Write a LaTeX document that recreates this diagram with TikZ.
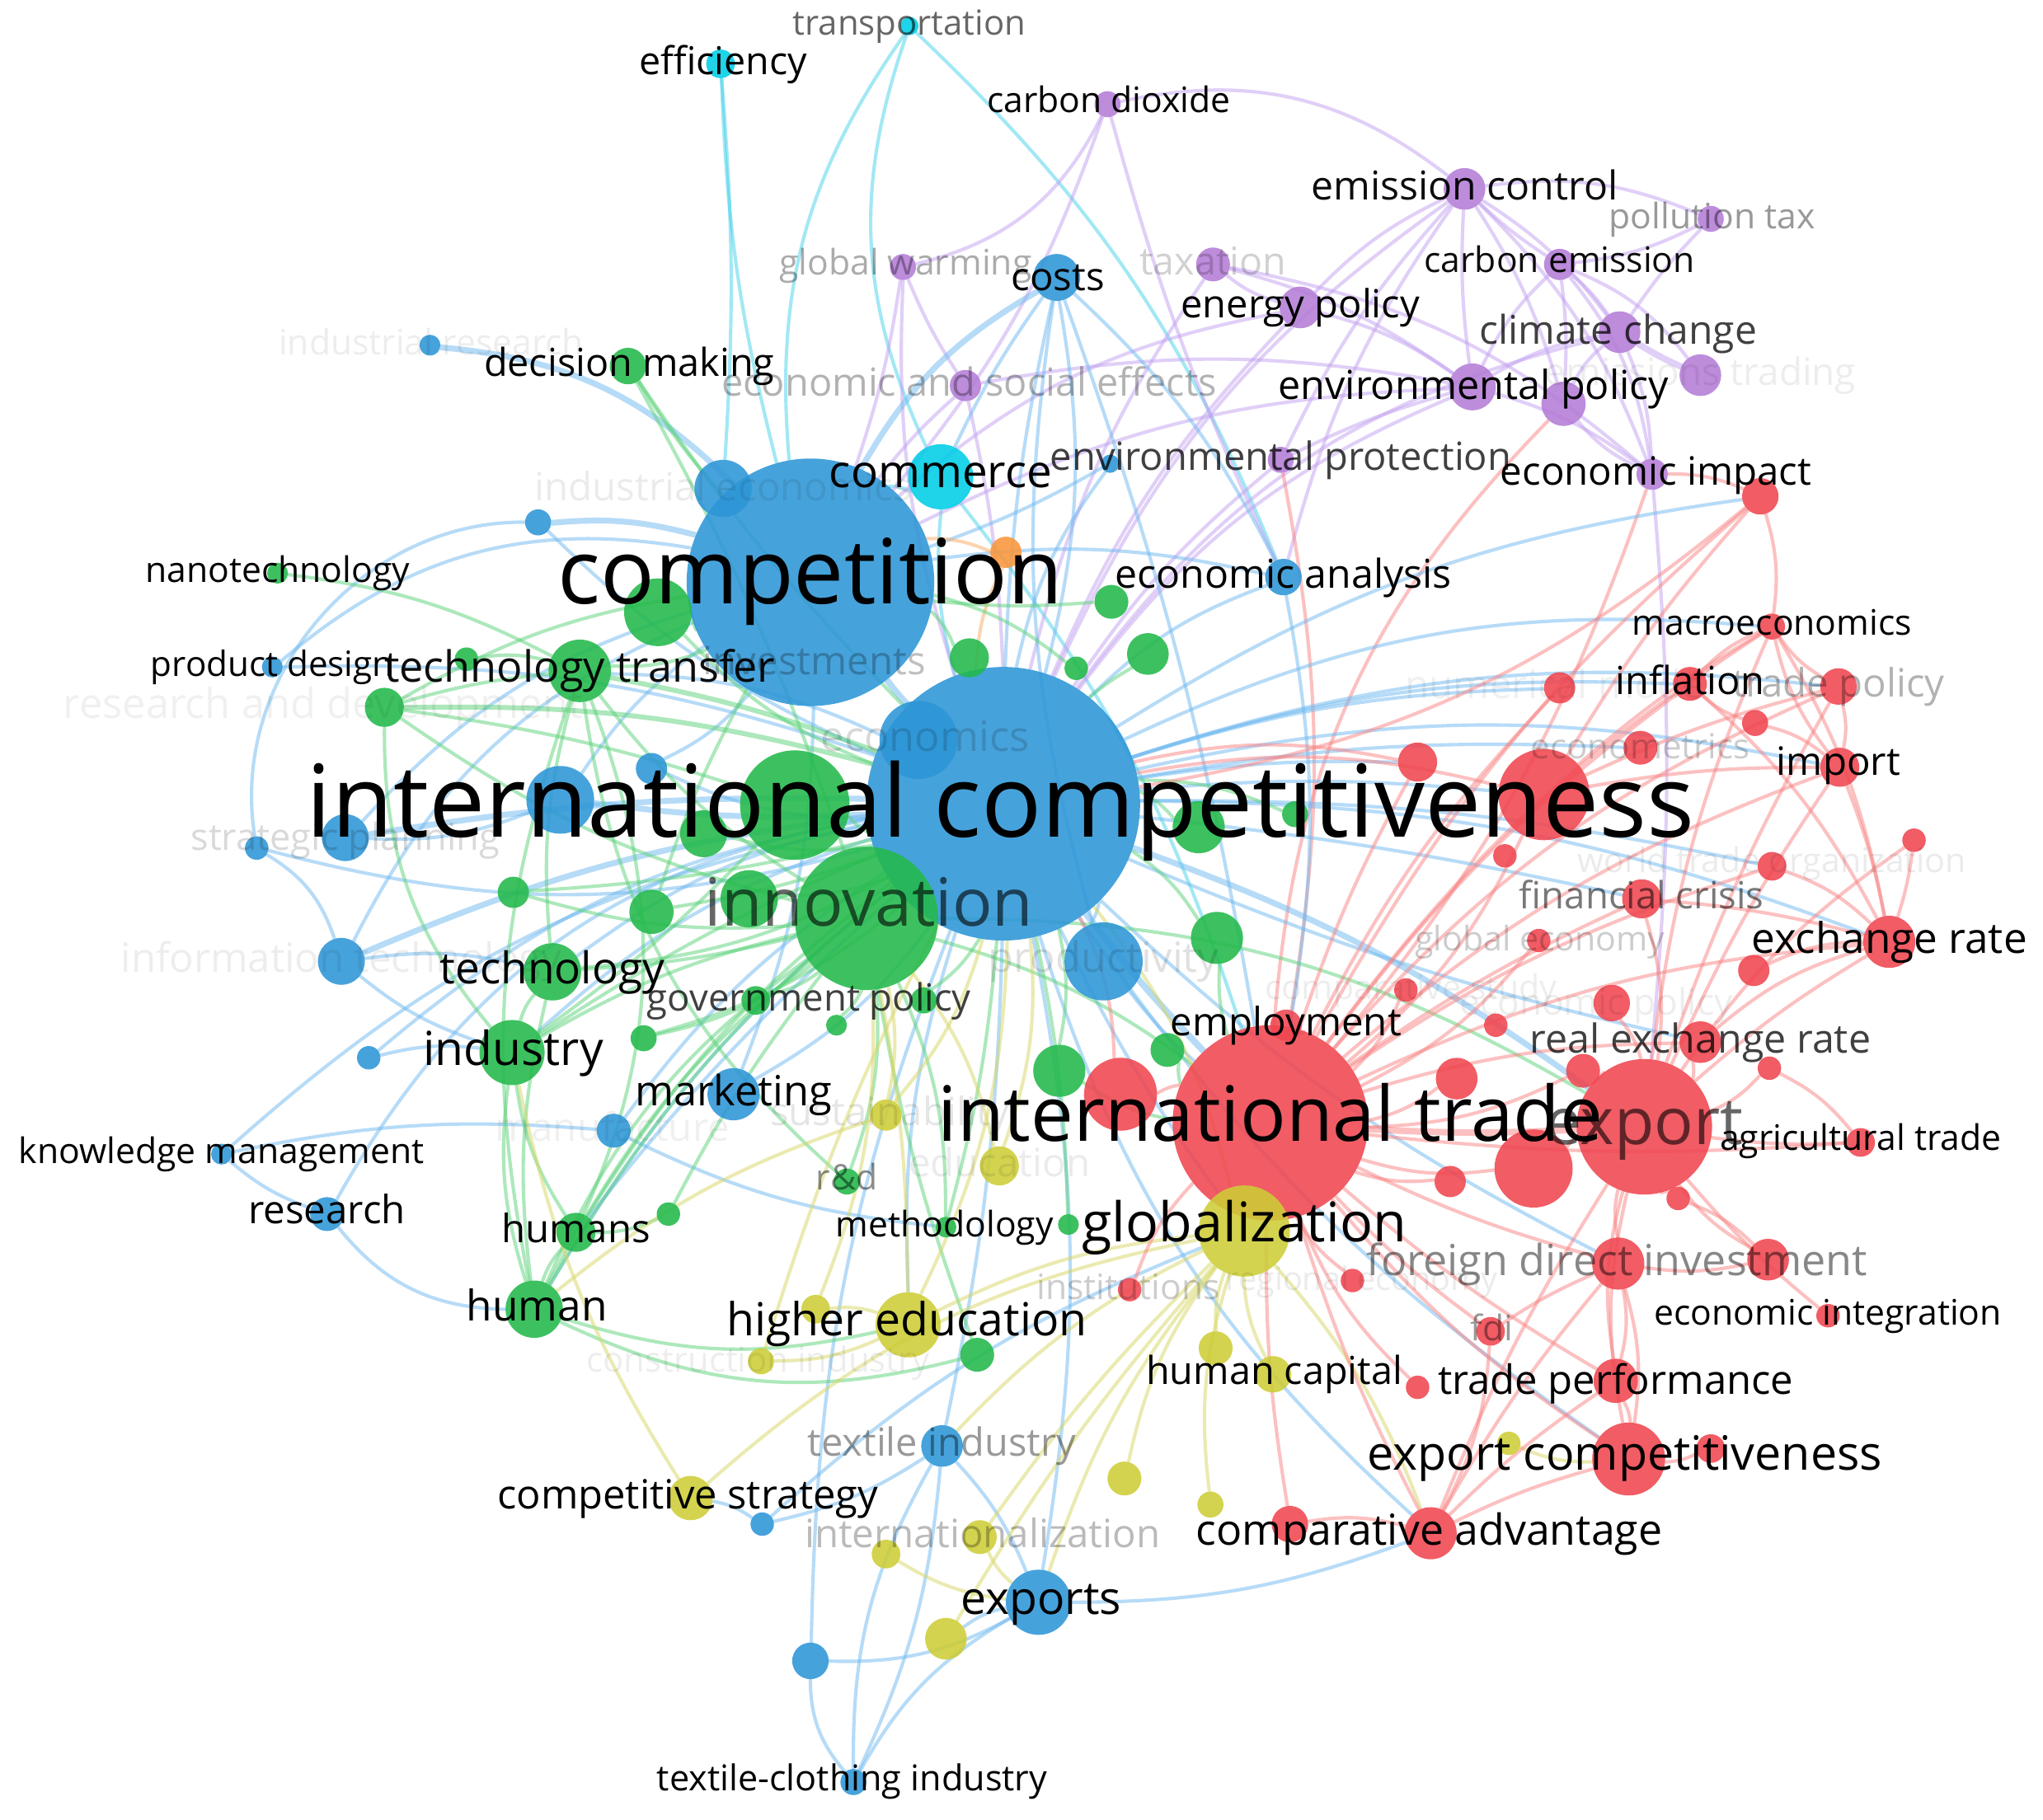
\documentclass[tikz,border=0pt]{standalone}
\usepackage{fontspec}
\setmainfont{Open Sans}
\pgfdeclarelayer{background}
\pgfdeclarelayer{edges}
\pgfdeclarelayer{fg}
\pgfsetlayers{background,edges,main,fg}
\definecolor{cR}{RGB}{240,70,80}
\definecolor{cG}{RGB}{35,185,75}
\definecolor{cB}{RGB}{45,150,215}
\definecolor{cY}{RGB}{205,205,55}
\definecolor{cP}{RGB}{180,125,215}
\definecolor{cC}{RGB}{0,205,230}
\definecolor{cO}{RGB}{250,150,60}
\definecolor{lR}{RGB}{250,130,130}
\definecolor{lG}{RGB}{90,210,120}
\definecolor{lB}{RGB}{110,185,240}
\definecolor{lY}{RGB}{215,215,100}
\definecolor{lP}{RGB}{195,160,240}
\definecolor{lC}{RGB}{70,210,235}
\definecolor{lO}{RGB}{250,170,100}
\tikzset{
  vnode/.style={circle, inner sep=0pt, outer sep=0pt, draw=none, fill opacity=.88},
  vlabel/.style={inner sep=0pt, outer sep=0pt, text=black, anchor=base},
  ebase/.style={line width=2.6pt, draw opacity=.5},
  eR/.style={ebase, draw=lR},
  eG/.style={ebase, draw=lG},
  eB/.style={ebase, draw=lB},
  eY/.style={ebase, draw=lY},
  eP/.style={ebase, draw=lP},
  eC/.style={ebase, draw=lC},
  eO/.style={ebase, draw=lO},
  thk/.style={line width=4.5pt},
}
\newcommand\nd[5]{\node[vnode, fill=#5, minimum size=#4*2pt] (#1) at (#2,#3) {};}
\newcommand\lb[6]{\begin{pgfonlayer}{fg}\node[vlabel, text opacity=#5, font=\fontsize{#4}{#4}\selectfont] (#1) at (#2,{#3+0.27*#4}) {#6};\end{pgfonlayer}}
\newcommand\edg[4]{\pgfmathsetmacro\edgbend{ifthenelse(#4==0,12,#4)}\draw[#1] (#2) to[bend right=\edgbend] (#3);}
\begin{document}
\begin{tikzpicture}[x=1pt,y=-1pt]
\useasboundingbox (0,0) rectangle (1568,1397);
\begin{pgfonlayer}{background}
\fill[white] (0,0) rectangle (1568,1397);
\end{pgfonlayer}
% ---------- nodes (big first) ----------
\nd{intcomp}{770}{617}{105}{cB}
\nd{comp}{622}{447}{95}{cB}
\nd{inttrade}{975}{862}{75}{cR}
\nd{innov}{665}{705}{55}{cG}
\nd{export}{1262}{865}{52}{cR}
\nd{gr610}{610}{618}{42}{cG}
\nd{glob}{955}{945}{35}{cY}
\nd{rd1185}{1185}{610}{35}{cR}
\nd{econs}{705}{568}{30}{cB}
\nd{prod}{847}{738}{30}{cB}
\nd{rd1177}{1177}{897}{30}{cR}
\nd{rd860}{860}{840}{28}{cR}
\nd{expc}{1250}{1120}{28}{cR}
\nd{gr505}{505}{470}{26}{cG}
\nd{bl430}{430}{614}{26}{cB}
\nd{commerce}{722}{366}{25}{cC}
\nd{industry}{393}{808}{25}{cG}
\nd{higher}{697}{1017}{25}{cY}
\nd{exports}{797}{1230}{25}{cB}
\nd{techtr}{445}{515}{24}{cG}
\nd{indeco}{555}{375}{22}{cB}
\nd{gr575}{575}{690}{22}{cG}
\nd{tech}{424}{746}{22}{cG}
\nd{human}{410}{1005}{22}{cG}
\nd{mkt}{563}{840}{20}{cB}
\nd{gr813}{813}{822}{20}{cG}
\nd{gr934}{934}{720}{20}{cG}
\nd{gr920}{920}{635}{20}{cG}
\nd{exrate}{1450}{723}{20}{cR}
\nd{fdi1}{1242}{970}{20}{cR}
\nd{compadv}{1098}{1177}{20}{cR}
\nd{costs}{811}{213}{18}{cB}
\nd{envpol}{1130}{297}{18}{cP}
\nd{strat}{265}{643}{18}{cB}
\nd{infotech}{262}{738}{18}{cB}
\nd{gr540}{540}{640}{18}{cG}
\nd{envpol2}{1200}{310}{17}{cP}
\nd{gr500}{500}{700}{17}{cG}
\nd{tperf}{1240}{1060}{17}{cR}
\nd{cstrat}{530}{1150}{17}{cY}
\nd{emctrl}{1124}{145}{16}{cP}
\nd{enpol}{998}{236}{16}{cP}
\nd{climate}{1243}{255}{16}{cP}
\nd{emtrade}{1305}{288}{16}{cP}
\nd{gr881}{881}{502}{16}{cG}
\nd{rd1118}{1118}{828}{16}{cR}
\nd{rex}{1305}{800}{16}{cR}
\nd{fdi2}{1357}{967}{16}{cR}
\nd{texind}{723}{1110}{16}{cB}
\nd{yl726}{726}{1258}{16}{cY}
\nd{gr744}{744}{505}{15}{cG}
\nd{rnd}{295}{543}{15}{cG}
\nd{humans}{442}{946}{15}{cG}
\nd{educ}{767}{895}{15}{cY}
\nd{rd1088}{1088}{585}{15}{cR}
\nd{import}{1412}{589}{15}{cR}
\nd{fincr}{1260}{690}{15}{cR}
\nd{decm}{482}{281}{14}{cG}
\nd{econan}{985}{443}{14}{cB}
\nd{red1351}{1351}{381}{14}{cR}
\nd{tpol}{1411}{527}{14}{cR}
\nd{ecpol}{1237}{770}{14}{cR}
\nd{hcap}{977}{1055}{14}{cY}
\nd{rd990}{990}{1170}{14}{cR}
\nd{bl622}{622}{1275}{14}{cB}
\nd{taxat}{931}{203}{13}{cP}
\nd{gr853}{853}{462}{13}{cG}
\nd{gr896}{896}{806}{13}{cG}
\nd{manuf}{471}{868}{13}{cB}
\nd{research}{251}{932}{13}{cB}
\nd{infl}{1297}{525}{13}{cR}
\nd{econom}{1259}{574}{13}{cR}
\nd{rd1215}{1215}{822}{13}{cR}
\nd{gr750}{750}{1040}{13}{cG}
\nd{hcap2}{933}{1035}{13}{cY}
\nd{yl863}{863}{1135}{13}{cY}
\nd{intlz}{752}{1180}{13}{cY}
\nd{cemis}{1197}{203}{12}{cP}
\nd{esoc}{741}{296}{12}{cP}
\nd{ecimp}{1268}{364}{12}{cP}
\nd{orng}{772}{424}{12}{cO}
\nd{bl500}{500}{590}{12}{cB}
\nd{gr394}{394}{685}{12}{cG}
\nd{sust}{680}{856}{12}{cY}
\nd{emp}{987}{787}{12}{cR}
\nd{rd1113}{1113}{907}{12}{cR}
\nd{nummod}{1197}{528}{12}{cR}
\nd{rd1346}{1346}{745}{12}{cR}
\nd{effic}{553}{49}{11}{cC}
\nd{gpol1}{580}{768}{11}{cG}
\nd{wto}{1360}{665}{11}{cR}
\nd{agri}{1428}{877}{11}{cR}
\nd{fdi}{1144}{1022}{11}{cR}
\nd{rd1313}{1313}{1112}{11}{cR}
\nd{yl626}{626}{1005}{11}{cY}
\nd{yl680}{680}{1193}{11}{cY}
\nd{cdiox}{850}{80}{10}{cP}
\nd{poltax}{1313}{168}{10}{cP}
\nd{gwarm}{693}{205}{10}{cP}
\nd{envprot}{983}{353}{10}{cP}
\nd{bl413}{413}{401}{10}{cB}
\nd{gr494}{494}{797}{10}{cG}
\nd{gpol2}{709}{768}{10}{cG}
\nd{rd}{650}{907}{10}{cG}
\nd{gr994}{994}{625}{10}{cG}
\nd{macro}{1360}{481}{10}{cR}
\nd{rd1347}{1347}{555}{10}{cR}
\nd{constr}{584}{1045}{10}{cY}
\nd{texcl}{655}{1368}{10}{cB}
\nd{yl929}{929}{1155}{10}{cY}
\nd{strat1}{197}{651}{9}{cB}
\nd{bl283}{283}{812}{9}{cB}
\nd{gr358}{358}{506}{9}{cG}
\nd{gr826}{826}{513}{9}{cG}
\nd{gr513}{513}{932}{9}{cG}
\nd{bl585}{585}{1170}{9}{cB}
\nd{rd1155}{1155}{657}{9}{cR}
\nd{compst}{1079}{760}{9}{cR}
\nd{rd1148}{1148}{787}{9}{cR}
\nd{rd1469}{1469}{645}{9}{cR}
\nd{gecon}{1181}{722}{9}{cR}
\nd{rd1358}{1358}{820}{9}{cR}
\nd{rd1288}{1288}{920}{9}{cR}
\nd{inst}{867}{990}{9}{cR}
\nd{regec}{1038}{983}{9}{cR}
\nd{ecint}{1403}{1010}{9}{cR}
\nd{tperf1}{1088}{1065}{9}{cR}
\nd{yl1158}{1158}{1108}{9}{cY}
\nd{indres}{330}{265}{8}{cB}
\nd{nano}{213}{440}{8}{cG}
\nd{prodd}{209}{512}{8}{cB}
\nd{knowm}{170}{886}{8}{cB}
\nd{gr642}{642}{787}{8}{cG}
\nd{method}{726}{942}{8}{cG}
\nd{gr820}{820}{940}{8}{cG}
\nd{trans}{698}{20}{7}{cC}
\nd{bl852}{852}{356}{7}{cB}
% ---------- edges ----------
\begin{pgfonlayer}{edges}
% cyan
\edg{eC}{effic}{indeco}{-4}
\edg{eC}{effic}{comp}{6}
\edg{eC}{trans}{comp}{20}
\edg{eC}{trans}{commerce}{22}
\edg{eC}{trans}{econan}{-12}
\edg{eC}{commerce}{comp}{0}
\edg{eC}{commerce}{intcomp}{10}
\edg{eC}{commerce}{inttrade}{-10}
% purple
\edg{eP}{cdiox}{gwarm}{-25}
\edg{eP}{cdiox}{comp}{-10}
\edg{eP}{cdiox}{emctrl}{-25}
\edg{eP}{cdiox}{econan}{5}
\edg{eP}{gwarm}{comp}{-5}
\edg{eP}{gwarm}{esoc}{5}
\edg{eP}{gwarm}{intcomp}{10}
\edg{eP}{emctrl}{cemis}{5}
\edg{eP}{emctrl}{climate}{-10}
\edg{eP}{emctrl}{envpol}{5}
\edg{eP}{emctrl}{envpol2}{-8}
\edg{eP}{emctrl}{poltax}{-15}
\edg{eP}{emctrl}{enpol}{10}
\edg{eP}{emctrl}{intcomp}{15}
\edg{eP}{emctrl}{envprot}{8}
\edg{eP}{emctrl}{ecimp}{-12}
\edg{eP}{emctrl}{econan}{10}
\edg{eP}{cemis}{poltax}{10}
\edg{eP}{cemis}{climate}{-8}
\edg{eP}{cemis}{envpol}{10}
\edg{eP}{cemis}{envpol2}{-5}
\edg{eP}{cemis}{emtrade}{-15}
\edg{eP}{cemis}{ecimp}{-15}
\edg{eP,line width=5pt}{climate}{emtrade}{4}
\edg{eP}{climate}{envpol}{10}
\edg{eP}{climate}{envpol2}{0}
\edg{eP}{climate}{ecimp}{-10}
\edg{eP}{climate}{intcomp}{20}
\edg{eP}{poltax}{climate}{5}
\edg{eP}{taxat}{envpol}{-10}
\edg{eP}{taxat}{enpol}{0}
\edg{eP}{taxat}{intcomp}{10}
\edg{eP}{taxat}{ecimp}{-15}
\edg{eP}{enpol}{intcomp}{10}
\edg{eP}{enpol}{envpol}{-10}
\edg{eP}{enpol}{comp}{15}
\edg{eP}{envpol}{intcomp}{15}
\edg{eP}{envpol}{ecimp}{-10}
\edg{eP}{envpol}{comp}{12}
\edg{eP}{envpol}{esoc}{10}
\edg{eR}{envpol2}{inttrade}{20}
\edg{eP}{envpol2}{ecimp}{0}
\edg{eP}{envprot}{intcomp}{8}
\edg{eR}{envprot}{inttrade}{-10}
\edg{eP}{envprot}{envpol}{-5}
\edg{eR}{ecimp}{inttrade}{-10}
\edg{eP}{ecimp}{export}{-5}
\edg{eP}{esoc}{comp}{5}
\edg{eP}{esoc}{intcomp}{-5}
% blue
\edg{eB,thk}{costs}{comp}{15}
\edg{eB}{costs}{intcomp}{5}
\edg{eB}{costs}{intcomp}{-12}
\edg{eB}{costs}{econan}{-10}
\edg{eB}{costs}{inttrade}{-5}
\edg{eB}{costs}{commerce}{5}
\edg{eB}{costs}{prod}{0}
\edg{eB,thk}{indres}{comp}{-20}
\edg{eB,thk}{bl413}{comp}{-10}
\edg{eB}{bl413}{intcomp}{10}
\edg{eB}{bl413}{strat1}{50}
\edg{eB}{prodd}{comp}{-25}
\edg{eB}{prodd}{intcomp}{-10}
\edg{eB}{strat1}{intcomp}{15}
\edg{eB,thk}{strat}{intcomp}{-5}
\edg{eB}{strat}{comp}{-15}
\edg{eB}{strat}{bl430}{0}
\edg{eB,thk}{bl430}{intcomp}{5}
\edg{eB}{bl430}{comp}{-10}
\edg{eB}{bl500}{intcomp}{0}
\edg{eB}{bl500}{comp}{0}
\edg{eB,thk}{infotech}{intcomp}{-8}
\edg{eB}{infotech}{comp}{-20}
\edg{eB}{infotech}{tech}{-10}
\edg{eB}{infotech}{strat1}{20}
\edg{eB}{infotech}{industry}{10}
\edg{eB}{bl283}{intcomp}{-15}
\edg{eB}{bl283}{industry}{-10}
\edg{eB}{knowm}{intcomp}{-15}
\edg{eB}{knowm}{research}{10}
\edg{eB}{knowm}{manuf}{-8}
\edg{eB}{research}{intcomp}{-25}
\edg{eB}{research}{human}{25}
\edg{eB}{mkt}{intcomp}{0}
\edg{eB}{mkt}{comp}{10}
\edg{eB}{manuf}{intcomp}{-10}
\edg{eB}{manuf}{method}{10}
\edg{eB}{texind}{intcomp}{5}
\edg{eB}{texind}{exports}{-10}
\edg{eB}{texind}{bl585}{-10}
\edg{eB}{texind}{texcl}{15}
\edg{eB}{bl585}{cstrat}{0}
\edg{eB}{bl585}{glob}{-10}
\edg{eB}{exports}{intcomp}{10}
\edg{eB}{exports}{compadv}{10}
\edg{eB}{exports}{yl726}{0}
\edg{eB}{exports}{bl622}{-15}
\edg{eB}{exports}{texcl}{15}
\edg{eB}{bl622}{texcl}{20}
\edg{eB}{bl622}{intcomp}{-10}
\edg{eB}{texcl}{texind}{10}
\edg{eB}{econan}{intcomp}{0}
\edg{eB}{econan}{comp}{10}
\edg{eB}{econan}{inttrade}{-10}
\edg{eB}{bl852}{intcomp}{0}
\edg{eB}{bl852}{comp}{-5}
\edg{eB}{prod}{intcomp}{0}
\edg{eB}{prod}{inttrade}{5}
\edg{eB}{econs}{intcomp}{0}
\edg{eB,line width=5pt}{comp}{intcomp}{3}
\edg{eB,line width=5pt}{intcomp}{inttrade}{3}
\edg{eB,thk}{intcomp}{export}{-8}
\edg{eB}{intcomp}{rd1185}{-5}
\edg{eB}{intcomp}{exrate}{-10}
\edg{eB}{intcomp}{import}{-12}
\edg{eB}{intcomp}{infl}{-10}
\edg{eB}{intcomp}{macro}{-15}
\edg{eB}{intcomp}{red1351}{-12}
\edg{eB}{intcomp}{rex}{5}
\edg{eB}{intcomp}{compadv}{15}
\edg{eB}{intcomp}{expc}{10}
\edg{eB}{intcomp}{fdi1}{8}
\edg{eB}{intcomp}{glob}{5}
\edg{eB}{intcomp}{higher}{10}
\edg{eB}{intcomp}{human}{10}
\edg{eB}{intcomp}{industry}{0}
\edg{eB}{intcomp}{tech}{0}
\edg{eB}{intcomp}{techtr}{0}
\edg{eB}{intcomp}{humans}{5}
\edg{eB}{intcomp}{rd1088}{-5}
\edg{eB}{intcomp}{nummod}{-8}
\edg{eB}{intcomp}{econom}{-6}
\edg{eB}{intcomp}{tpol}{-12}
\edg{eB}{intcomp}{fincr}{-3}
\edg{eB}{intcomp}{wto}{-6}
% orange
\edg{eO}{orng}{intcomp}{0}
\edg{eO}{orng}{comp}{0}
% green
\edg{eG}{decm}{comp}{5}
\edg{eG}{decm}{innov}{-5}
\edg{eG}{decm}{intcomp}{5}
\edg{eG}{nano}{techtr}{-10}
\edg{eG}{gr505}{comp}{0}
\edg{eG}{gr505}{intcomp}{0}
\edg{eG}{techtr}{comp}{0}
\edg{eG,line width=3.8pt}{techtr}{intcomp}{-5}
\edg{eG}{techtr}{innov}{10}
\edg{eG}{techtr}{rnd}{5}
\edg{eG}{techtr}{gr358}{0}
\edg{eG}{techtr}{human}{15}
\edg{eG,line width=3.8pt}{rnd}{intcomp}{-8}
\edg{eG}{rnd}{innov}{10}
\edg{eG}{rnd}{industry}{20}
\edg{eG}{rnd}{gr610}{-5}
\edg{eG}{rnd}{comp}{-10}
\edg{eG}{gr394}{intcomp}{5}
\edg{eG}{gr394}{innov}{10}
\edg{eG}{tech}{intcomp}{0}
\edg{eG}{tech}{innov}{5}
\edg{eG}{tech}{industry}{0}
\edg{eG}{tech}{human}{10}
\edg{eG}{tech}{techtr}{-10}
\edg{eG}{industry}{intcomp}{-5}
\edg{eG}{industry}{innov}{-8}
\edg{eG}{industry}{human}{0}
\edg{eG}{industry}{humans}{0}
\edg{eG}{industry}{gr610}{5}
\edg{eG}{gr494}{intcomp}{0}
\edg{eG}{gr494}{innov}{0}
\edg{eG}{humans}{intcomp}{-10}
\edg{eG}{humans}{innov}{-10}
\edg{eG}{humans}{human}{0}
\edg{eG}{humans}{gr513}{0}
\edg{eG}{human}{innov}{-15}
\edg{eG}{human}{intcomp}{-10}
\edg{eG}{human}{higher}{15}
\edg{eG}{human}{gr750}{20}
\edg{eG}{human}{techtr}{25}
\edg{eG}{gr513}{innov}{-5}
\edg{eG}{gpol1}{innov}{0}
\edg{eG}{gpol2}{intcomp}{0}
\edg{eG}{rd}{innov}{0}
\edg{eG}{rd}{techtr}{-20}
\edg{eG}{method}{innov}{0}
\edg{eG}{method}{intcomp}{5}
\edg{eG}{gr820}{intcomp}{5}
\edg{eG}{gr813}{inttrade}{0}
\edg{eG}{gr813}{intcomp}{0}
\edg{eG}{gr934}{intcomp}{0}
\edg{eG}{gr934}{inttrade}{10}
\edg{eG}{gr896}{inttrade}{0}
\edg{eG}{gr920}{intcomp}{0}
\edg{eG}{gr853}{comp}{-5}
\edg{eG}{gr881}{intcomp}{5}
\edg{eG}{gr826}{comp}{0}
\edg{eG}{gr744}{comp}{0}
\edg{eG}{gr750}{innov}{-5}
\edg{eG}{gr540}{intcomp}{0}
\edg{eG}{gr610}{intcomp}{0}
\edg{eG}{gr575}{intcomp}{0}
\edg{eG}{gr500}{intcomp}{5}
\edg{eG}{gr500}{comp}{-5}
\edg{eG}{innov}{inttrade}{-10}
\edg{eG}{innov}{export}{-15}
\edg{eG}{gr994}{intcomp}{0}
\edg{eG}{gr642}{innov}{0}
% yellow
\edg{eY}{glob}{intcomp}{0}
\edg{eY}{glob}{inttrade}{0}
\edg{eY}{glob}{higher}{10}
\edg{eY}{glob}{hcap}{0}
\edg{eY}{glob}{hcap2}{0}
\edg{eY}{glob}{cstrat}{15}
\edg{eY}{glob}{texind}{10}
\edg{eY}{glob}{intlz}{5}
\edg{eY}{glob}{yl726}{5}
\edg{eY}{glob}{exports}{10}
\edg{eY}{glob}{compadv}{-10}
\edg{eY}{glob}{yl863}{0}
\edg{eY}{glob}{yl929}{0}
\edg{eY}{higher}{intcomp}{0}
\edg{eY}{higher}{innov}{5}
\edg{eY}{higher}{yl626}{0}
\edg{eY}{yl626}{innov}{0}
\edg{eY}{constr}{intcomp}{-5}
\edg{eY}{constr}{higher}{0}
\edg{eY}{sust}{innov}{0}
\edg{eY}{sust}{intcomp}{0}
\edg{eY}{sust}{human}{10}
\edg{eY}{educ}{intcomp}{0}
\edg{eY}{educ}{innov}{0}
\edg{eY}{cstrat}{industry}{-10}
\edg{eY}{intlz}{exports}{0}
\edg{eY}{yl680}{exports}{0}
\edg{eY}{yl1158}{expc}{0}
% red
\edg{eR,line width=5pt}{inttrade}{export}{3}
\edg{eR}{inttrade}{rd1177}{0}
\edg{eR}{inttrade}{exrate}{-10}
\edg{eR}{inttrade}{rex}{-8}
\edg{eR}{inttrade}{fdi1}{5}
\edg{eR}{inttrade}{compadv}{5}
\edg{eR}{inttrade}{expc}{8}
\edg{eR}{inttrade}{tperf}{5}
\edg{eR}{inttrade}{macro}{-10}
\edg{eR}{inttrade}{infl}{-8}
\edg{eR}{inttrade}{import}{-10}
\edg{eR}{inttrade}{rd1185}{0}
\edg{eR}{inttrade}{red1351}{-10}
\edg{eR}{inttrade}{agri}{5}
\edg{eR}{inttrade}{rd860}{0}
\edg{eR}{inttrade}{rd1118}{0}
\edg{eR}{inttrade}{rd1113}{0}
\edg{eR}{inttrade}{emp}{0}
\edg{eR}{inttrade}{inst}{0}
\edg{eR}{inttrade}{regec}{0}
\edg{eR}{inttrade}{fdi}{5}
\edg{eR}{inttrade}{rd1215}{0}
\edg{eR}{inttrade}{fincr}{-5}
\edg{eR}{inttrade}{nummod}{-8}
\edg{eR}{inttrade}{wto}{-8}
\edg{eR}{inttrade}{gecon}{0}
\edg{eR}{inttrade}{compst}{0}
\edg{eR}{inttrade}{rd990}{5}
\edg{eR}{inttrade}{tperf1}{0}
\edg{eR}{inttrade}{tpol}{-12}
\edg{eR}{export}{exrate}{-5}
\edg{eR}{export}{agri}{5}
\edg{eR}{export}{expc}{0}
\edg{eR}{export}{import}{-5}
\edg{eR}{export}{fincr}{0}
\edg{eR}{export}{rex}{0}
\edg{eR}{export}{fdi1}{0}
\edg{eR}{export}{fdi2}{0}
\edg{eR}{export}{ecint}{5}
\edg{eR}{export}{rd1358}{0}
\edg{eR}{export}{rd1288}{0}
\edg{eR}{export}{tpol}{-5}
\edg{eR}{export}{macro}{-8}
\edg{eR}{export}{ecpol}{0}
\edg{eR}{export}{rd1469}{-10}
\edg{eR}{export}{rd1177}{0}
\edg{eR}{export}{rd1215}{0}
\edg{eR}{export}{compadv}{5}
\edg{eR}{export}{tperf}{0}
\edg{eR}{exrate}{rd1469}{5}
\edg{eR}{exrate}{import}{5}
\edg{eR}{exrate}{infl}{10}
\edg{eR}{exrate}{macro}{10}
\edg{eR}{exrate}{rex}{0}
\edg{eR}{exrate}{wto}{0}
\edg{eR}{exrate}{fincr}{5}
\edg{eR}{exrate}{rd1346}{0}
\edg{eR}{rd1185}{intcomp}{0}
\edg{eR}{rd1185}{macro}{-5}
\edg{eR}{rd1185}{import}{-5}
\edg{eR}{rd1185}{red1351}{-5}
\edg{eR}{rd1185}{tpol}{-5}
\edg{eR}{compadv}{expc}{-5}
\edg{eR}{compadv}{fdi1}{-5}
\edg{eR}{compadv}{tperf}{-5}
\edg{eR}{compadv}{rd990}{0}
\edg{eR}{compadv}{fdi}{0}
\edg{eR}{expc}{tperf}{0}
\edg{eR}{expc}{fdi1}{0}
\edg{eR}{expc}{rd1313}{0}
\edg{eR}{fdi1}{fdi}{5}
\edg{eR}{fdi1}{fdi2}{10}
\edg{eR}{fdi2}{rd1288}{0}
\edg{eR}{tperf}{fdi1}{0}
\edg{eR}{macro}{red1351}{0}
\edg{eR}{macro}{infl}{0}
\edg{eR}{macro}{import}{0}
\edg{eR}{macro}{tpol}{0}
\edg{eR}{red1351}{intcomp}{-15}
\edg{eR}{red1351}{ecimp}{0}
\edg{eR}{rd860}{intcomp}{0}
\edg{eR}{rd1088}{intcomp}{0}
\edg{eR}{rd1088}{inttrade}{5}
\edg{eR}{import}{tpol}{0}
\edg{eR}{import}{rd1347}{0}
\edg{eR}{infl}{rd1347}{0}
\edg{eR}{agri}{rd1358}{0}
\end{pgfonlayer}
% ---------- labels ----------
\lb{Ltrans}{698}{20}{26.5}{.6}{transportation}
\lb{Leffic}{555}{49}{29.5}{1}{efficiency}
\lb{Lcdiox}{851}{79}{27}{1}{carbon dioxide}
\lb{Lemctrl}{1124}{145}{30.5}{.95}{emission control}
\lb{Lpoltax}{1314}{168}{27}{.4}{pollution tax}
\lb{Lcemis}{1197}{202}{27}{.95}{carbon emission}
\lb{Lgwarm}{695}{204}{27}{.33}{global warming}
\lb{Ltaxat}{931}{203}{29.5}{.18}{taxation}
\lb{Lcosts}{812}{215}{30}{1}{costs}
\lb{Lenpol}{998}{236}{29.8}{1}{energy policy}
\lb{Lclimate}{1242}{256}{30.4}{.75}{climate change}
\lb{Lemtrade}{1305}{288}{29}{.07}{emissions trading}
\lb{Lenvpol}{1131}{298}{30.7}{1}{environmental policy}
\lb{Lesoc}{744}{296}{29.7}{.3}{economic and social effects}
\lb{Ldecm}{483}{281}{29.6}{1}{decision making}
\lb{Lindres}{331}{265}{27}{.07}{industrial research}
\lb{Lindeco}{555}{376}{30}{.08}{industrial economics}
\lb{Lcommerce}{722}{365}{34.7}{1}{commerce}
\lb{Lenvprot}{983}{353}{29.8}{.75}{environmental protection}
\lb{Lecimp}{1271}{364}{30}{1}{economic impact}
\lb{Lnano}{213}{440}{27}{1}{nanotechnology}
\lb{Lcomp}{622}{445}{69}{1}{competition}
\lb{Leconan}{985}{443}{30.5}{1}{economic analysis}
\lb{Lprodd}{209}{512}{26.7}{1}{product design}
\lb{Ltechtr}{445}{515}{33}{.95}{technology transfer}
\lb{Linvest}{625}{510}{30}{.25}{investments}
\lb{Lrnd}{248}{543}{32}{.06}{research and development}
\lb{Lecons}{710}{568}{32}{.15}{economics}
\lb{Lintcomp}{768}{622}{77}{1}{international competitiveness}
\lb{Lstrat}{265}{645}{28.6}{.15}{strategic planning}
\lb{Linnov}{667}{697}{51}{.6}{innovation}
\lb{Linfotech}{262}{738}{31}{.07}{information technology}
\lb{Lprod}{847}{738}{32}{.12}{productivity}
\lb{Ltech}{424}{746}{33.6}{1}{technology}
\lb{Lgpol}{621}{768}{28.8}{.75}{government policy}
\lb{Lemp}{987}{787}{30}{1}{employment}
\lb{Lindustry}{394}{808}{36}{1}{industry}
\lb{Lmkt}{563}{840}{32}{1}{marketing}
\lb{Lmanuf}{470}{868}{30}{.06}{manufacture}
\lb{Lsust}{683}{856}{30}{.1}{sustainability}
\lb{Linttrade}{975}{860}{58.5}{1}{international trade}
\lb{Lexport}{1262}{865}{50}{.6}{export}
\lb{Lknowm}{170}{886}{27}{1}{knowledge management}
\lb{Leduc}{767}{895}{30}{.08}{education}
\lb{Lrd}{650}{906}{27}{.45}{r\&d}
\lb{Lresearch}{251}{931}{30}{1}{research}
\lb{Lmethod}{725}{942}{27}{1}{methodology}
\lb{Lhumans}{442}{946}{30}{1}{humans}
\lb{Lglob}{955}{942}{42}{1}{globalization}
\lb{Lhuman}{412}{1005}{32.5}{1}{human}
\lb{Lhigher}{696}{1016}{35}{1}{higher education}
\lb{Lconstr}{582}{1046}{26.5}{.07}{construction industry}
\lb{Linst}{866}{990}{27}{.2}{institutions}
\lb{Lregec}{1045}{984}{25}{.08}{regional economy}
\lb{Lhcap}{978}{1055}{29.6}{1}{human capital}
\lb{Ltexind}{723}{1110}{29.7}{.4}{textile industry}
\lb{Lcstrat}{528}{1150}{30.9}{1}{competitive strategy}
\lb{Lintlz}{754}{1180}{30}{.27}{internationalization}
\lb{Lexports}{799}{1230}{35}{1}{exports}
\lb{Ltexcl}{654}{1367}{27.3}{1}{textile-clothing industry}
\lb{Lmacro}{1360}{480}{27}{1}{macroeconomics}
\lb{Lnummod}{1197}{528}{30}{.06}{numerical model}
\lb{Linfl}{1297}{525}{29.7}{1}{inflation}
\lb{Ltpol}{1411}{527}{30}{.3}{trade policy}
\lb{Lecometr}{1259}{575}{26.6}{.2}{econometrics}
\lb{Limport}{1411}{587}{30}{1}{import}
\lb{Lwto}{1360}{663}{26}{.08}{world trade organization}
\lb{Lfincr}{1260}{690}{28.8}{.53}{financial crisis}
\lb{Lgecon}{1182}{723}{26}{.2}{global economy}
\lb{Lexrate}{1450}{723}{32.4}{1}{exchange rate}
\lb{Lcompst}{1083}{760}{26}{.07}{comparative study}
\lb{Lecpol}{1225}{772}{28}{.07}{economic policy}
\lb{Lrex}{1305}{800}{30.6}{.75}{real exchange rate}
\lb{Lagri}{1428}{876}{27}{1}{agricultural trade}
\lb{Lfdi1}{1241}{970}{32.9}{.47}{foreign direct investment}
\lb{Lfdi}{1145}{1022}{27}{.4}{fdi}
\lb{Lecint}{1403}{1010}{27}{1}{economic integration}
\lb{Ltperf}{1240}{1062}{31}{1}{trade performance}
\lb{Lexpc}{1247}{1119}{36.3}{1}{export competitiveness}
\lb{Lcompadv}{1097}{1177}{32.8}{1}{comparative advantage}
\end{tikzpicture}
\end{document}
